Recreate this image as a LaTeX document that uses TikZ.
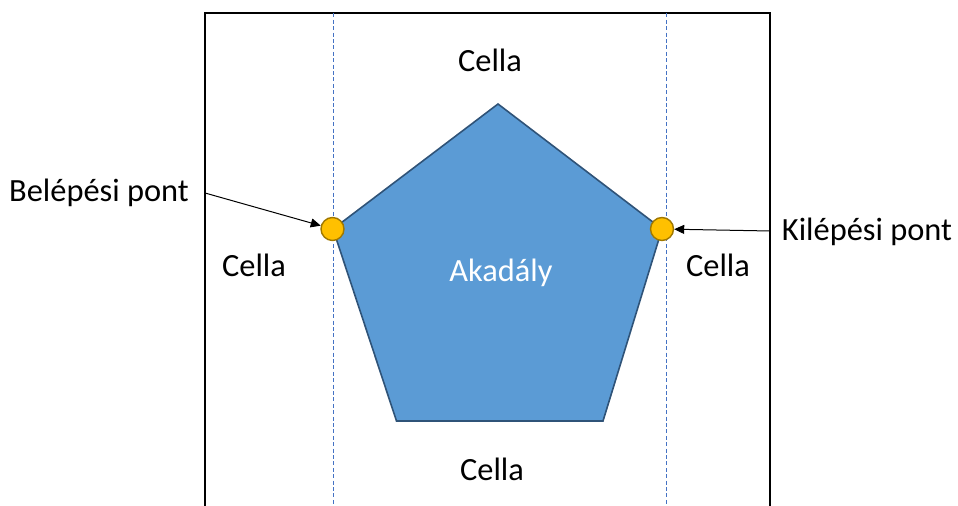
\documentclass[tikz,border=0pt]{standalone}
\usepackage{fontspec}
\setmainfont{Carlito}
\usetikzlibrary{arrows.meta}
\definecolor{obstfill}{HTML}{5B9BD5}
\definecolor{obstline}{HTML}{2F5378}
\definecolor{pointfill}{HTML}{FFC000}
\definecolor{pointline}{HTML}{A07800}
\definecolor{gridline}{HTML}{4472C4}
\tikzset{
  label text/.style={font=\fontsize{16.2}{19}\selectfont, inner sep=0pt, text=black},
  portpoint/.style={circle, draw=pointline, fill=pointfill, line width=0.7pt, minimum size=11.5pt, inner sep=0pt},
  cellborder/.style={draw=black, line width=1pt},
  cellsplit/.style={draw=gridline, line width=0.4pt, dash pattern=on 2pt off 1.2pt},
  pointer/.style={draw=black, line width=0.5pt, -{Triangle[length=5pt,width=4.5pt]}}
}
\begin{document}
\begin{tikzpicture}[x=0.5pt, y=-0.5pt]
  \useasboundingbox (0,0) rectangle (958,506);
  \clip (0,0) rectangle (958,506);
  % cell outline, open below the visible area
  \draw[cellborder] (204.5,13.5) rectangle (770,530);
  % column separators
  \draw[cellsplit] (333,13.5) -- (333,506);
  \draw[cellsplit] (666,13.5) -- (666,506);
  % obstacle
  \draw[fill=obstfill, draw=obstline, line width=0.8pt]
    (498,104) -- (662,229) -- (603,421) -- (396.5,421) -- (333,229) -- cycle;
  \node[label text, text=white] (obst) at (501,273) {Akadály};
  % cell labels
  \node[label text] (ctop) at (490,60) {Cella};
  \node[label text] (cleft) at (254,265) {Cella};
  \node[label text] (cright) at (718,265) {Cella};
  \node[label text] (cbottom) at (492,469) {Cella};
  % entry and exit points
  \node[portpoint] (entry) at (332.5,229) {};
  \node[portpoint] (exit) at (662,229) {};
  \node[label text] (entrylbl) at (99,193) {Belépési pont};
  \node[label text] (exitlbl) at (867,232) {Kilépési pont};
  \coordinate (entrystart) at (205,193);
  \coordinate (exitstart) at (770,231);
  \draw[pointer] (entrystart) -- (entry);
  \draw[pointer] (exitstart) -- (exit);
\end{tikzpicture}
\end{document}
